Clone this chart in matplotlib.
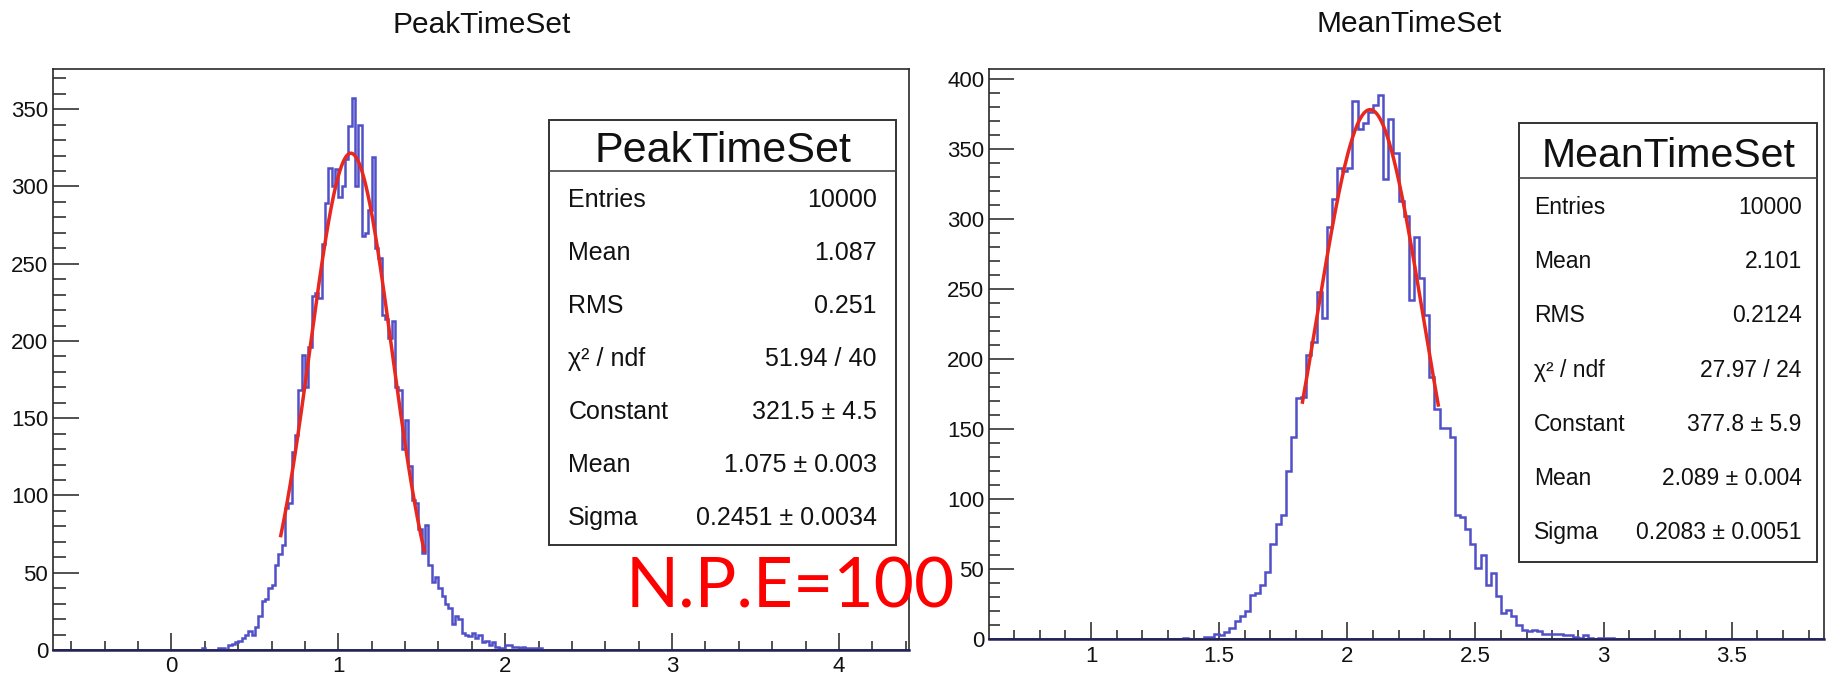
import matplotlib
matplotlib.use('Agg')
import numpy as np
import matplotlib.pyplot as plt
from matplotlib.patches import Rectangle
from matplotlib.lines import Line2D
from matplotlib.ticker import MultipleLocator

plt.rcParams['font.family'] = ['Liberation Sans', 'DejaVu Sans']

# ---------------- data ----------------
bin_width = 0.02

peak_start = 0.16
peak_counts = [0, 1, 0, 0, 0, 0, 1, 1, 0, 3,
               4, 5, 6, 8, 10, 12, 10, 15, 22, 32,
               33, 40, 42, 55, 62, 68, 92, 95, 128, 139,
               168, 191, 170, 196, 229, 231, 228, 263, 289, 312,
               300, 311, 293, 300, 318, 339, 357, 300, 340, 268,
               270, 285, 319, 260, 254, 217, 214, 202, 213, 170,
               168, 130, 149, 119, 97, 95, 78, 63, 81, 55,
               44, 47, 40, 35, 30, 27, 17, 22, 20, 11,
               10, 9, 11, 8, 10, 5, 6, 3, 5, 2,
               1, 1, 3, 3, 2, 2, 1, 2, 1, 1,
               1, 1, 1]

mean_start = 1.36
mean_counts = [1, 0, 0, 0, 2, 2, 4, 3, 5, 8,
               13, 17, 20, 32, 33, 39, 48, 68, 82, 89,
               120, 144, 172, 173, 203, 212, 248, 229, 294, 314,
               336, 334, 336, 384, 364, 368, 376, 381, 388, 328,
               371, 347, 313, 302, 242, 287, 258, 231, 187, 164,
               151, 151, 144, 89, 87, 79, 68, 51, 60, 39,
               47, 31, 19, 21, 17, 10, 7, 6, 7, 6,
               4, 4, 4, 4, 3, 3, 2, 1, 3, 1,
               0, 1, 1, 1]

peak_fit = [321.5, 1.075, 0.2451]      # constant, mean, sigma
peak_fit_range = [0.655, 1.515]
mean_fit = [377.8, 2.089, 0.2083]
mean_fit_range = [1.825, 2.355]

peak_title = "PeakTimeSet"
mean_title = "MeanTimeSet"
stat_labels = ["Entries", "Mean", "RMS", "χ² / ndf", "Constant", "Mean", "Sigma"]
peak_stat_values = ["10000", "1.087", "0.251", "51.94 / 40",
                    "321.5 ± 4.5", "1.075 ± 0.003", "0.2451 ± 0.0034"]
mean_stat_values = ["10000", "2.101", "0.2124", "27.97 / 24",
                    "377.8 ± 5.9", "2.089 ± 0.004", "0.2083 ± 0.0051"]

peak_xticks = [0, 1, 2, 3, 4]
mean_xticks = [1, 1.5, 2, 2.5, 3, 3.5]
peak_yticks = [0, 50, 100, 150, 200, 250, 300, 350]
mean_yticks = [0, 50, 100, 150, 200, 250, 300, 350, 400]

annotation = "N.P.E=100"

# ---------------- figure ----------------
W, H = 1835, 678
fig = plt.figure(figsize=(W / 100, H / 100), dpi=100)


def fx(x):
    return x / W


def fy(y):
    return 1 - y / H


HIST_C = '#5050c8'
FIT_C = '#e8281e'
AX_C = '#2a2a2a'

ax1 = fig.add_axes([fx(53), fy(650), (909 - 53) / W, (650 - 69) / H])
ax2 = fig.add_axes([fx(989), fy(639.4), (1824 - 989) / W, (639.4 - 68.7) / H])


def draw_hist(ax, start, counts, fit, frange, xlim, ylim):
    edges = start + bin_width * np.arange(len(counts) + 1)
    ax.stairs(counts, edges, color=HIST_C, lw=1.8, zorder=3)
    ax.plot(xlim, [0, 0], color='#22225a', lw=1.8, clip_on=False, zorder=4)
    xf = np.linspace(frange[0], frange[1], 300)
    yf = fit[0] * np.exp(-0.5 * ((xf - fit[1]) / fit[2]) ** 2)
    ax.plot(xf, yf, color=FIT_C, lw=2.5, zorder=5)
    ax.set_xlim(*xlim)
    ax.set_ylim(*ylim)


draw_hist(ax1, peak_start, peak_counts, peak_fit, peak_fit_range, (-0.71, 4.42), (0, 376))
draw_hist(ax2, mean_start, mean_counts, mean_fit, mean_fit_range, (0.602, 3.86), (0, 407))

ax1.set_xticks(peak_xticks)
ax1.set_xticklabels([str(t) for t in peak_xticks])
ax1.xaxis.set_minor_locator(MultipleLocator(0.2))
ax1.set_yticks(peak_yticks)
ax1.yaxis.set_minor_locator(MultipleLocator(10))

ax2.set_xticks(mean_xticks)
ax2.set_xticklabels(['%g' % t for t in mean_xticks])
ax2.xaxis.set_minor_locator(MultipleLocator(0.1))
ax2.set_yticks(mean_yticks)
ax2.yaxis.set_minor_locator(MultipleLocator(10))

for ax, ymaj, ymin in ((ax1, 18.7, 9.3), (ax2, 17.8, 8.1)):
    for s in ax.spines.values():
        s.set_color(AX_C)
        s.set_linewidth(1.2)
    ax.tick_params(which='both', direction='in', top=False, right=False,
                   color='#333333', width=1.2, labelsize=16, labelcolor='#111111')
    ax.tick_params(axis='x', which='major', length=12, pad=4.5)
    ax.tick_params(axis='x', which='minor', length=6.2)
    ax.tick_params(axis='y', which='major', length=ymaj, pad=3.5)
    ax.tick_params(axis='y', which='minor', length=ymin)

# titles
fig.text(fx(481.7), fy(33.3), peak_title, ha='center', va='baseline',
         fontsize=21.5, color='#111111')
fig.text(fx(1409), fy(32.4), mean_title, ha='center', va='baseline',
         fontsize=21.5, color='#111111')


def stats_box(x0, x1, y0, y1, ysep, title, tsize, tbase, lab_x, val_x,
              base0, step, fsize, values):
    fig.add_artist(Rectangle((fx(x0), fy(y1)), (x1 - x0) / W, (y1 - y0) / H,
                             transform=fig.transFigure, facecolor='white',
                             edgecolor='#333333', lw=1.4, zorder=6))
    fig.add_artist(Line2D([fx(x0), fx(x1)], [fy(ysep), fy(ysep)],
                          transform=fig.transFigure, color='#444444', lw=1.2, zorder=7))
    fig.text(fx((x0 + x1) / 2), fy(tbase), title, ha='center', va='baseline',
             fontsize=tsize, color='#111111', zorder=8)
    for i, (lab, val) in enumerate(zip(stat_labels, values)):
        yb = base0 + step * i
        fig.text(fx(lab_x), fy(yb), lab, ha='left', va='baseline',
                 fontsize=fsize, color='#111111', zorder=8)
        fig.text(fx(val_x), fy(yb), val, ha='right', va='baseline',
                 fontsize=fsize, color='#111111', zorder=8)


stats_box(549.3, 896, 119.6, 544.6, 171.4, peak_title, 31, 162.5,
          568.3, 876.7, 207.2, 53.0, 18, peak_stat_values)
stats_box(1519.3, 1817.3, 122.7, 561.7, 178.3, mean_title, 29.5, 166.7,
          1534.3, 1801.7, 214.3, 54.1, 16.5, mean_stat_values)

fig.text(fx(626), fy(607), annotation, ha='left', va='baseline',
         fontsize=50, color='#ff0000', family=['Lato', 'DejaVu Sans'], zorder=10)

fig.savefig('out.png', dpi=100)
